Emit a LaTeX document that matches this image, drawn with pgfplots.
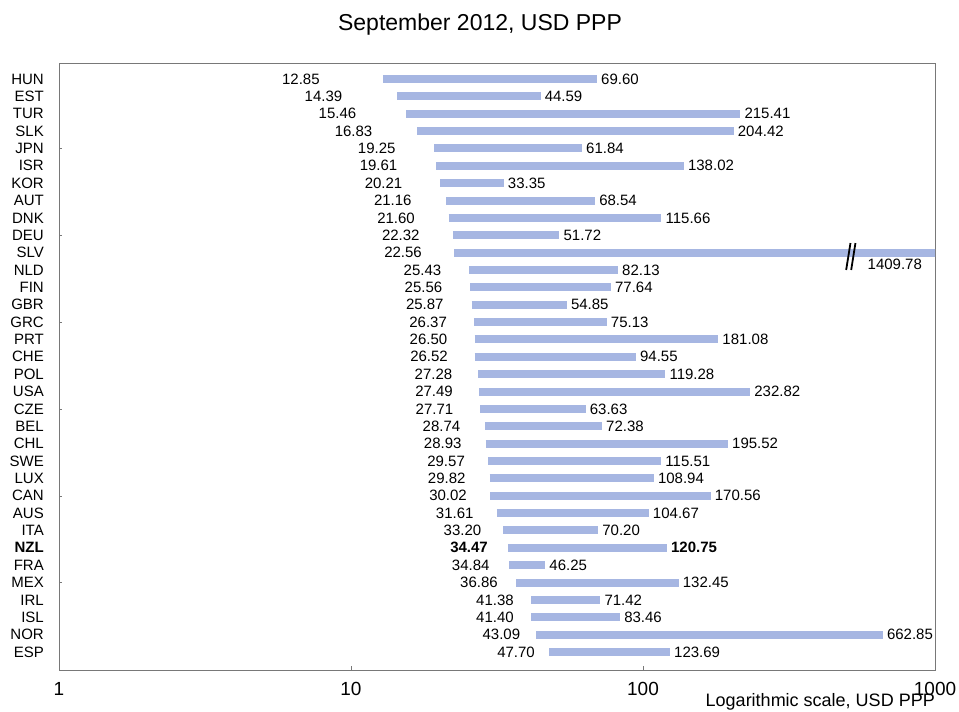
\documentclass[border=0pt]{standalone}
\usepackage{pgfplots}
\pgfplotsset{compat=1.18}
\usepackage{pgfplotstable}
\usepackage{fontspec}
\setmainfont{Liberation Sans}
\definecolor{barblue}{RGB}{166,182,226}
\definecolor{spine}{RGB}{120,120,120}

% lo/hi = range; lx = where the low label ends; hx = where the high label starts
\pgfplotstableread{
name lo    hi      lx    hx
HUN  12.85 69.60   7.82  69.60
EST  14.39 44.59   9.35  44.59
TUR  15.46 215.41  10.44 215.41
SLK  16.83 204.42  11.85 204.42
JPN  19.25 61.84   14.23 61.84
ISR  19.61 138.02  14.43 138.02
KOR  20.21 33.35   15.01 33.35
AUT  21.16 68.54   16.15 68.54
DNK  21.60 115.66  16.57 115.66
DEU  22.32 51.72   17.20 51.72
SLV  22.56 1409.78 17.51 569
NLD  25.43 82.13   20.40 82.13
FIN  25.56 77.64   20.56 77.64
GBR  25.87 54.85   20.78 54.85
GRC  26.37 75.13   21.33 75.13
PRT  26.50 181.08  21.39 181.08
CHE  26.52 94.55   21.49 94.55
POL  27.28 119.28  22.25 119.28
USA  27.49 232.82  22.36 232.82
CZE  27.71 63.63   22.43 63.63
BEL  28.74 72.38   23.70 72.38
CHL  28.93 195.52  23.94 195.52
SWE  29.57 115.51  24.58 115.51
LUX  29.82 108.94  24.71 108.94
CAN  30.02 170.56  24.96 170.56
AUS  31.61 104.67  26.32 104.67
ITA  33.20 70.20   27.97 70.20
NZL  34.47 120.75  29.46 120.75
FRA  34.84 46.25   29.85 46.25
MEX  36.86 132.45  31.87 132.45
IRL  41.38 71.42   36.16 71.42
ISL  41.40 83.46   36.16 83.46
NOR  43.09 662.85  38.03 662.85
ESP  47.70 123.69  42.67 123.69
}\ranges

\pgfplotsset{
  lbl/.style={draw=none, mark=none, point meta=explicit symbolic,
    nodes near coords,
    nodes near coords style={font=\fontsize{15bp}{18bp}\selectfont, inner sep=0pt}},
  lowlbl/.style={lbl, nodes near coords align={anchor=east}},
  highlbl/.style={lbl, nodes near coords align={anchor=west},
    every node near coord/.append style={xshift=4bp}},
}

\begin{document}
\begin{tikzpicture}
\begin{axis}[
  width=876bp, height=607bp, scale only axis,
  xmode=log, log basis x=10,
  xmin=1, xmax=1000,
  ymin=-0.92, ymax=34.04, y dir=reverse,
  xtick={1,10,100,1000}, xticklabels={1,10,100,1000},
  ytick={0,...,33},
  yticklabels={HUN,EST,TUR,SLK,JPN,ISR,KOR,AUT,DNK,DEU,SLV,NLD,FIN,GBR,GRC,PRT,CHE,POL,USA,CZE,BEL,CHL,SWE,LUX,CAN,AUS,ITA,\textbf{NZL},FRA,MEX,IRL,ISL,NOR,ESP},
  ytick style={draw=none},
  extra y ticks={4,9,14,19,24,29},
  extra y tick labels={},
  extra y tick style={ytick style={draw=spine}, major tick length=3bp},
  tick align=inside, tick pos=left,
  major tick length=4bp, minor tick length=4bp,
  tick style={draw=spine},
  axis line style={draw=spine, line width=0.9bp},
  xticklabel style={font=\fontsize{19bp}{22bp}\selectfont, inner sep=0pt, yshift=-12bp},
  yticklabel style={font=\fontsize{15bp}{18bp}\selectfont, inner sep=0pt, xshift=-15bp},
  title={September 2012, USD PPP},
  title style={font=\fontsize{23bp}{27bp}\selectfont, at={(axis description cs:0.4806,1.044)}, anchor=base, inner sep=0pt},
  xlabel={Logarithmic scale, USD PPP},
  xlabel style={font=\fontsize{18bp}{21bp}\selectfont, at={(axis description cs:1,-0.0605)}, anchor=base east, inner sep=0pt},
  clip mode=individual,
]
% bars: error bars from lo to hi
\addplot [draw=none, mark=none,
  error bars/.cd, x dir=plus, x explicit,
  error bar style={line width=8bp, draw=barblue}, error mark=none]
  table [x=lo, y expr=\coordindex, x error expr=\thisrow{hi}-\thisrow{lo}] {\ranges};

% low labels (NZL set apart in bold)
\addplot [lowlbl, skip coords between index={27}{28}]
  table [x=lx, y expr=\coordindex, meta=lo] {\ranges};
\addplot [lowlbl, skip coords between index={0}{27}, skip coords between index={28}{40},
  nodes near coords style={font=\fontsize{15bp}{18bp}\selectfont\bfseries}]
  table [x=lx, y expr=\coordindex, meta=lo] {\ranges};

% high labels (SLV moved below the broken bar, NZL bold)
\addplot [highlbl, skip coords between index={10}{11}, skip coords between index={27}{28}]
  table [x=hx, y expr=\coordindex, meta=hi] {\ranges};
\addplot [highlbl, skip coords between index={0}{27}, skip coords between index={28}{40},
  nodes near coords style={font=\fontsize{15bp}{18bp}\selectfont\bfseries}]
  table [x=hx, y expr=\coordindex, meta=hi] {\ranges};
\addplot [highlbl, skip coords between index={0}{10}, skip coords between index={11}{40},
  every node near coord/.append style={yshift=-12bp}]
  table [x=hx, y expr=\coordindex, meta=hi] {\ranges};

% axis break on SLV
\draw [black, line width=1.8bp] (axis cs:513.5,9.45) -- (axis cs:496.3,11.0);
\draw [black, line width=1.8bp] (axis cs:534,9.45) -- (axis cs:516.4,11.0);

\coordinate (bl) at (rel axis cs:-0.06735,-0.0684);
\coordinate (tr) at (rel axis cs:1.0274,1.1038);
\end{axis}
\pgfresetboundingbox
\path (bl) rectangle (tr);
\end{tikzpicture}
\end{document}
